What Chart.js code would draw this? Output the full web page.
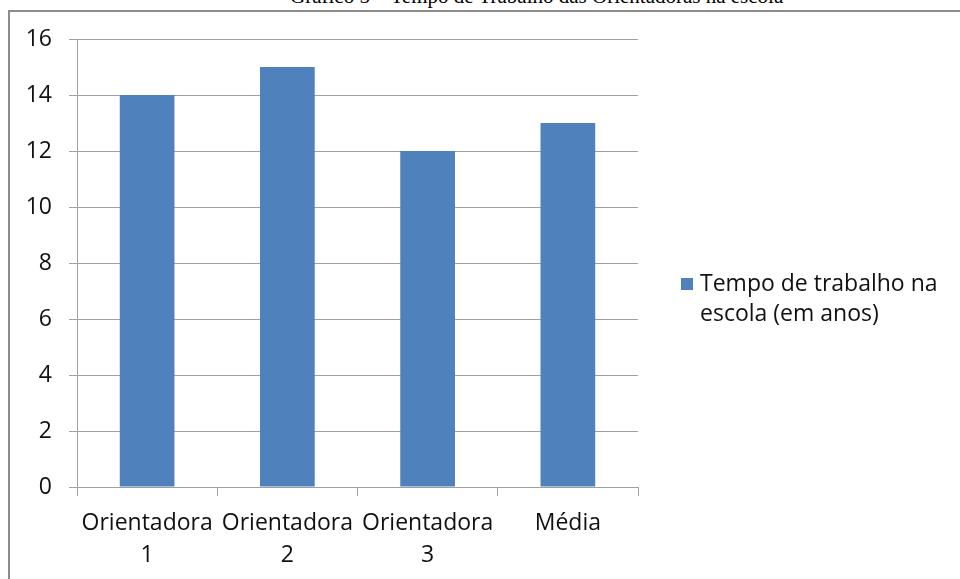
<!DOCTYPE html>
<html>
<head>
<meta charset="utf-8">
<script src="https://cdn.jsdelivr.net/npm/chart.js@4/dist/chart.umd.min.js"></script>
<style>
  html, body { margin: 0; padding: 0; background: #fff; width: 960px; height: 579px; overflow: hidden; }
  #frame { position: absolute; left: 8px; top: 10px; width: 980px; height: 600px; border: 2px solid #8c8c8c; box-sizing: border-box; }
  #title { position: absolute; left: 290px; top: -14px; line-height: 21px; font-family: "Liberation Serif", serif; font-size: 21px; color: #000; white-space: nowrap; }
  #wrap { position: absolute; left: 0; top: 0; width: 960px; height: 579px; }
</style>
</head>
<body>
<div id="title">Gráfico 5 – Tempo de Trabalho das Orientadoras na escola</div>
<div id="frame"></div>
<div id="wrap"><canvas id="c" width="960" height="579"></canvas></div>
<script>
const categories = [["Orientadora", "1"], ["Orientadora", "2"], ["Orientadora", "3"], "Média"];
const seriesLabel = "Tempo de trabalho na escola (em anos)";
const seriesValues = [14, 15, 12, 13];
const yTicks = [0, 2, 4, 6, 8, 10, 12, 14, 16];

const FONT = "'Open Sans', sans-serif";
const BAR = "#4f81bd";
const GRID = "#a0a0a0";

const legendPlugin = {
  id: 'sideLegend',
  afterDraw(chart) {
    const ctx = chart.ctx;
    const ds = chart.data.datasets[0];
    ctx.save();
    ctx.font = "23px " + FONT;
    ctx.textBaseline = "middle";
    ctx.textAlign = "left";
    const words = ds.label.split(" ");
    const maxW = 250;
    const lines = [];
    let cur = "";
    for (const w of words) {
      const t = cur ? cur + " " + w : w;
      if (ctx.measureText(t).width > maxW && cur) { lines.push(cur); cur = w; } else { cur = t; }
    }
    if (cur) lines.push(cur);
    const x0 = 681, y0 = 284, lh = 30;
    ctx.fillStyle = ds.backgroundColor;
    ctx.fillRect(x0, y0 - 6, 12, 12);
    ctx.fillStyle = "#111";
    lines.forEach((ln, i) => ctx.fillText(ln, x0 + 19, y0 + i * lh));
    ctx.restore();
  }
};

new Chart(document.getElementById('c'), {
  type: 'bar',
  data: {
    labels: categories,
    datasets: [{
      label: seriesLabel,
      data: seriesValues,
      backgroundColor: BAR,
      borderWidth: 0,
      barPercentage: 0.39,
      categoryPercentage: 1.0
    }]
  },
  options: {
    responsive: false,
    animation: false,
    devicePixelRatio: 1,
    layout: { padding: { left: 0, right: 322, top: 39, bottom: 0 } },
    plugins: { legend: { display: false }, tooltip: { enabled: false }, title: { display: false } },
    scales: {
      x: {
        offset: true,
        afterFit(scale) { scale.height = 92; },
        grid: { display: true, offset: true, drawOnChartArea: false, drawTicks: true, tickLength: 9, color: GRID, lineWidth: 1 },
        border: { display: true, color: GRID, width: 1 },
        ticks: { color: "#111", font: { family: FONT, size: 23, lineHeight: 1.4 }, padding: 11, maxRotation: 0, autoSkip: false }
      },
      y: {
        min: 0, max: 16,
        afterBuildTicks(scale) { scale.ticks = yTicks.map(v => ({ value: v })); },
        afterFit(scale) { scale.width = 77; },
        grid: { color: GRID, lineWidth: 1, drawTicks: true, tickLength: 8 },
        border: { display: true, color: GRID, width: 1 },
        ticks: { color: "#111", font: { family: FONT, size: 23 }, padding: 17 }
      }
    }
  },
  plugins: [legendPlugin]
});
</script>
</body>
</html>
